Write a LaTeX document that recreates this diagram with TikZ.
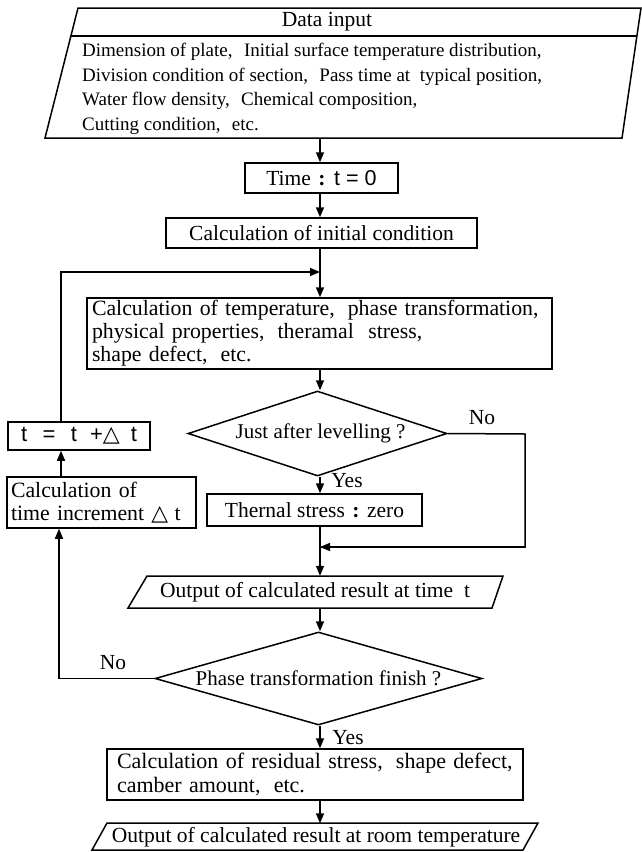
\documentclass[tikz,border=0pt]{standalone}
\usepackage{fontspec}
\setmainfont{Liberation Serif}
\setsansfont{Liberation Sans}
\newfontfamily\symf{DejaVu Sans}
\usetikzlibrary{arrows.meta,shapes.geometric}
\newcommand{\wc}{,\hspace{0.6em}}
\newcommand{\fsz}[2]{\fontsize{#1}{#2}\selectfont}
\tikzset{
  ln/.style={line width=1.5pt},
  arr/.style={ln,-{Triangle[length=10pt,width=8pt]}},
  box/.style={draw,ln,inner sep=0pt,font=\fsz{21.5}{25}},
  lbox/.style={box,align=left},
  dec/.style={draw,ln,shape=diamond,inner sep=0pt,font=\fsz{21}{25}},
  txt/.style={inner sep=0pt,font=\fsz{21.5}{25}},
}
\begin{document}
\begin{tikzpicture}[x=1pt,y=-1pt]
\useasboundingbox (0,0) rectangle (642,852);
\coordinate (ax) at (320,0);
\coordinate (lx) at (61,0);
\coordinate (lx2) at (59,0);

% Data input
\draw[ln] (78,8) -- (641,8) -- (622,138) -- (45,138) -- cycle;
\draw[ln] (71,36) -- (637,36);
\node[txt] (dtitle) at (327,22) {Data input};
\node[txt,anchor=west,align=left,font=\fsz{19}{24.7}] (dlist) at (82,89)
 {Dimension of plate\wc Initial surface temperature distribution,\\
  Division condition of section\wc Pass time at\ \ typical position,\\
  Water flow density\wc Chemical composition,\\
  Cutting condition\wc etc.};
\coordinate (din) at (320,138);

\node[box,minimum width=153pt,minimum height=30pt] (time) at (321.5,178)
 {Time\hspace{0.35em}\textbf{:}\hspace{0.4em}{\sffamily t = 0}};
\node[box,minimum width=311pt,minimum height=30pt] (ci) at (321.5,233)
 {Calculation of initial condition};
\coordinate (merge) at (320,272);
\node[lbox,text width=455pt,inner xsep=5pt,minimum height=71pt,font=\fsz{21.8}{23}] (ct) at (319.5,333.5)
 {Calculation of temperature\wc phase transformation,\\
  physical properties\wc theramal\ \ stress,\\
  shape defect\wc etc.};
\node[dec,aspect=3.05,minimum width=259pt,minimum height=85pt] (d1) at (317.5,433.5)
 {\hspace{6pt}Just after levelling ?};
\node[box,minimum width=215pt,minimum height=32pt] (ts) at (314.5,510)
 {Thernal stress\hspace{0.35em}\textbf{:}\hspace{0.35em}zero};
\coordinate (join) at (320,547);
\coordinate (nocorner) at (525,434);

% Output at time t
\draw[ln] (147,576) -- (503,576) -- (492,608) -- (128,608) -- cycle;
\node[txt,minimum height=32pt] (ot) at (315,592) {Output of calculated result at time\ \ t};

\node[dec,aspect=3.5,minimum width=327pt,minimum height=93pt] (d2) at (318.5,678.5)
 {Phase transformation finish ?};

\node[lbox,text width=396pt,inner xsep=10pt,minimum height=51pt,font=\fsz{22}{24}] (cr) at (315,774.5)
 {Calculation of residual stress\wc shape defect,\\
  camber amount\wc etc.};

% Final output
\draw[ln] (107,823) -- (538,823) -- (523,850) -- (92,850) -- cycle;
\node[txt,minimum height=27pt] (of) at (316,837) {Output of calculated result at room temperature};

% Left loop
\node[lbox,text width=181pt,inner xsep=4pt,minimum height=51pt,font=\fsz{21.8}{23}] (cti) at (101.5,502.5)
 {Calculation of\\ time increment {\symf △}\hspace{0.3em}t};
\node[box,minimum width=142pt,minimum height=28pt,font=\fsz{22}{25}] (tb) at (79,436)
 {\sffamily t\hspace{0.7em}=\hspace{0.7em}t\hspace{0.6em}+{\symf △}\hspace{0.5em}t};

% Labels
\node[txt] (no1) at (482,418) {No};
\node[txt] (yes1) at (347,481) {Yes};
\node[txt] (no2) at (113,663) {No};
\node[txt] (yes2) at (348,738) {Yes};

% Connectors
\draw[arr] (din) -- (time.north -| ax);
\draw[arr] (time.south -| ax) -- (ci.north -| ax);
\draw[arr] (ci.south -| ax) -- (ct.north -| ax);
\draw[arr] (tb.north -| lx) |- (merge);
\draw[arr] (ct.south -| ax) -- (d1.north -| ax);
\draw[arr] (d1.south -| ax) -- (ts.north -| ax);
\draw[ln] (d1.east) -- (nocorner) |- (join);
\draw[arr] (nocorner |- join) -- (join);
\draw[arr] (ts.south -| ax) -- (ot.north -| ax);
\draw[arr] (ot.south -| ax) -- (d2.north -| ax);
\draw[arr] (d2.south -| ax) -- (cr.north -| ax);
\draw[arr] (cr.south -| ax) -- (of.north -| ax);
\draw[ln] (d2.west) -- (d2.west -| lx2);
\draw[arr] (d2.west -| lx2) -- (cti.south -| lx2);
\draw[arr] (cti.north -| lx) -- (tb.south -| lx);
\end{tikzpicture}
\end{document}
